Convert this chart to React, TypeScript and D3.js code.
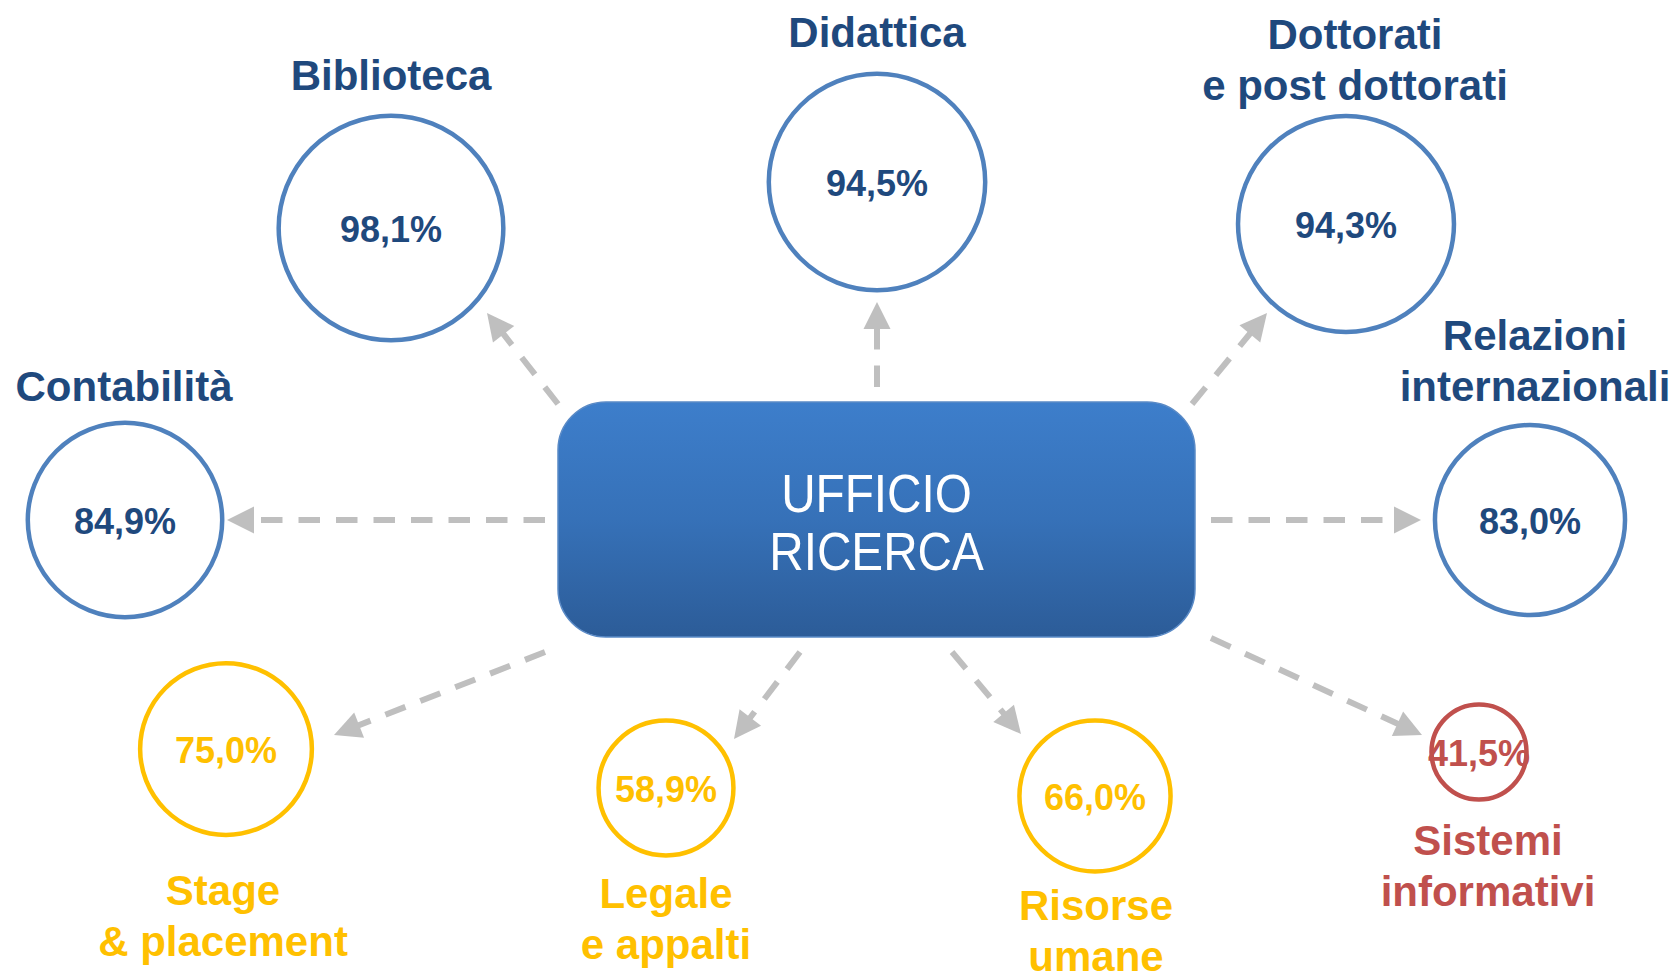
import React from "react";
import * as d3 from "d3";

// ---- data ----
const offices = [
  "Biblioteca",
  "Didattica",
  "Dottorati\ne post dottorati",
  "Contabilità",
  "Relazioni\ninternazionali",
  "Stage\n& placement",
  "Legale\ne appalti",
  "Risorse\numane",
  "Sistemi\ninformativi",
];
const satisfaction = [98.1, 94.5, 94.3, 84.9, 83.0, 75.0, 58.9, 66.0, 41.5];
const level = ["high", "high", "high", "high", "high", "mid", "mid", "mid", "low"];
const centerLabel = ["UFFICIO", "RICERCA"];

// ---- layout (diagram geometry, separate from data) ----
const nodeCenters: [number, number][] = [
  [391, 228], [877, 182], [1346, 224], [125, 520], [1530, 520],
  [226, 749], [666, 788], [1095, 796], [1479, 752],
];
const labelAnchors: { x: number; y: number }[] = [
  { x: 391, y: 90 }, { x: 877, y: 47 }, { x: 1355, y: 49 }, { x: 124, y: 401 },
  { x: 1535, y: 350 }, { x: 223, y: 905 }, { x: 666, y: 908 }, { x: 1096, y: 920 },
  { x: 1488, y: 855 },
];
const arrowStarts: [number, number][] = [
  [558, 404], [877, 387], [1192, 404], [545, 520], [1211, 520],
  [545, 652], [800, 652], [952, 652], [1211, 638],
];
const arrowTips: [number, number][] = [
  [487, 313], [877, 302], [1267, 313], [227, 520], [1421, 520],
  [334, 735], [734, 739], [1021, 734], [1422, 735],
];
const box = { x0: 558, y0: 402, x1: 1195, y1: 637, r: 48 };

const W = 1677, H = 976;
const FONT = "'Liberation Sans', Arial, Helvetica, sans-serif";

const colorOf = d3.scaleOrdinal<string, string>()
  .domain(["high", "mid", "low"])
  .range(["#4F81BD", "#FFC000", "#C0504D"]);
const textColorOf = d3.scaleOrdinal<string, string>()
  .domain(["high", "mid", "low"])
  .range(["#1F497D", "#FFC000", "#C0504D"]);
const rScale = d3.scaleLinear().domain([0, 100]).range([0, 114.5]);
const it = d3.formatLocale({ decimal: ",", thousands: ".", grouping: [3], currency: ["€", ""] });
const fmt = (v: number) => it.format(".1f")(v) + "%";

function Arrow({ s, t }: { s: [number, number]; t: [number, number] }) {
  const dx = t[0] - s[0], dy = t[1] - s[1];
  const len = Math.hypot(dx, dy);
  const ux = dx / len, uy = dy / len;
  const headL = 27, headW = 13.5;
  const bx = t[0] - ux * headL, by = t[1] - uy * headL;
  const px = -uy, py = ux;
  const head = d3.path();
  head.moveTo(t[0], t[1]);
  head.lineTo(bx + px * headW, by + py * headW);
  head.lineTo(bx - px * headW, by - py * headW);
  head.closePath();
  const ex = bx + ux * 12, ey = by + uy * 12;
  const line = d3.line()([[s[0], s[1]], [ex, ey]]) || "";
  return (
    <g>
      <path d={line} stroke="#BFBFBF" strokeWidth={6} strokeDasharray="21.5 16" fill="none" />
      <path d={head.toString()} fill="#BFBFBF" />
    </g>
  );
}

export default function App() {
  const bcx = (box.x0 + box.x1) / 2;
  return (
    <svg width={W} height={H} style={{ position: "absolute", left: 0, top: 0, background: "#fff" }}
      fontFamily={FONT}>
      <defs>
        <linearGradient id="boxGrad" x1="0" y1="0" x2="0" y2="1">
          <stop offset="0" stopColor="#3D7ECB" />
          <stop offset="0.5" stopColor="#3671B8" />
          <stop offset="1" stopColor="#2C5C98" />
        </linearGradient>
      </defs>

      {arrowStarts.map((s, i) => <Arrow key={"a" + i} s={s} t={arrowTips[i]} />)}

      <rect x={box.x0} y={box.y0} width={box.x1 - box.x0} height={box.y1 - box.y0}
        rx={box.r} ry={box.r} fill="url(#boxGrad)" stroke="#5A8AC6" strokeWidth={1.5} />
      {centerLabel.map((t, i) => (
        <text key={t} x={0} y={512 + i * 58} textAnchor="middle"
          fill="#fff" fontSize={53} transform={`translate(${bcx},0) scale(0.9,1)`}>
          {t}
        </text>
      ))}

      {offices.map((name, i) => {
        const [cx, cy] = nodeCenters[i];
        const c = colorOf(level[i]);
        const tc = textColorOf(level[i]);
        const lines = name.split("\n");
        return (
          <g key={name}>
            <circle cx={cx} cy={cy} r={rScale(satisfaction[i])} fill="none" stroke={c} strokeWidth={4.5} />
            <text x={cx} y={cy + 14} textAnchor="middle" fontSize={36} fontWeight="bold" fill={tc}>
              {fmt(satisfaction[i])}
            </text>
            {lines.map((ln, j) => (
              <text key={j} x={labelAnchors[i].x} y={labelAnchors[i].y + j * 51} textAnchor="middle"
                fontSize={42} fontWeight="bold" fill={tc}>
                {ln}
              </text>
            ))}
          </g>
        );
      })}
    </svg>
  );
}
